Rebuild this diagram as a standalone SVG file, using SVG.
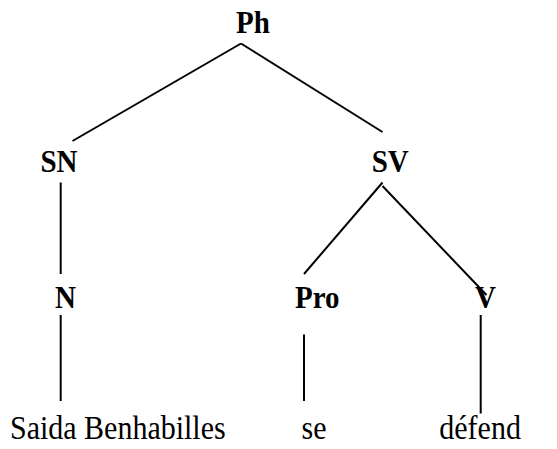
<svg xmlns="http://www.w3.org/2000/svg" width="557" height="449" viewBox="0 0 557 449">
<style>
.b{font-family:"Liberation Serif","Times New Roman",serif;font-weight:bold;font-size:29px;fill:#000}
.r{font-family:"Liberation Serif","Times New Roman",serif;font-size:30px;fill:#000}
.e{stroke:#000;stroke-width:2;fill:none}
</style>
<rect width="557" height="449" fill="#fff"/>
<g id="edges">
<line class="e" x1="241" y1="43.5" x2="72.5" y2="141"/>
<line class="e" x1="241" y1="43.5" x2="382.5" y2="132"/>
<line class="e" x1="60.7" y1="182.5" x2="60.7" y2="274"/>
<line class="e" x1="382.5" y1="182.5" x2="304" y2="274"/>
<line class="e" x1="382.5" y1="186" x2="486.5" y2="295"/>
<line class="e" x1="60.7" y1="315" x2="60.7" y2="401"/>
<line class="e" x1="304" y1="334.5" x2="304" y2="401"/>
<line class="e" x1="480.7" y1="315" x2="480.7" y2="413.5"/>
</g>
<g id="node-Ph"><text class="b" transform="translate(236 33.3) scale(1 1.1)">Ph</text></g>
<g id="node-SN"><text class="b" transform="translate(40.5 171.7) scale(1 1.1)">SN</text></g>
<g id="node-SV"><text class="b" transform="translate(371.7 171.7) scale(1 1.1)">SV</text></g>
<g id="node-N"><text class="b" transform="translate(55 308.3) scale(1 1.1)">N</text></g>
<g id="node-Pro"><text class="b" transform="translate(295 308.3) scale(1 1.1)">Pro</text></g>
<g id="node-V"><text class="b" transform="translate(475 308.3) scale(1 1.1)">V</text></g>
<g id="leaf-Saida"><text class="r" transform="translate(10 439) scale(1 1.1)">Saida Benhabilles</text></g>
<g id="leaf-se"><text class="r" transform="translate(301.5 439) scale(1 1.1)">se</text></g>
<g id="leaf-defend"><text class="r" transform="translate(439.3 439) scale(1 1.1)">défend</text></g>
</svg>
